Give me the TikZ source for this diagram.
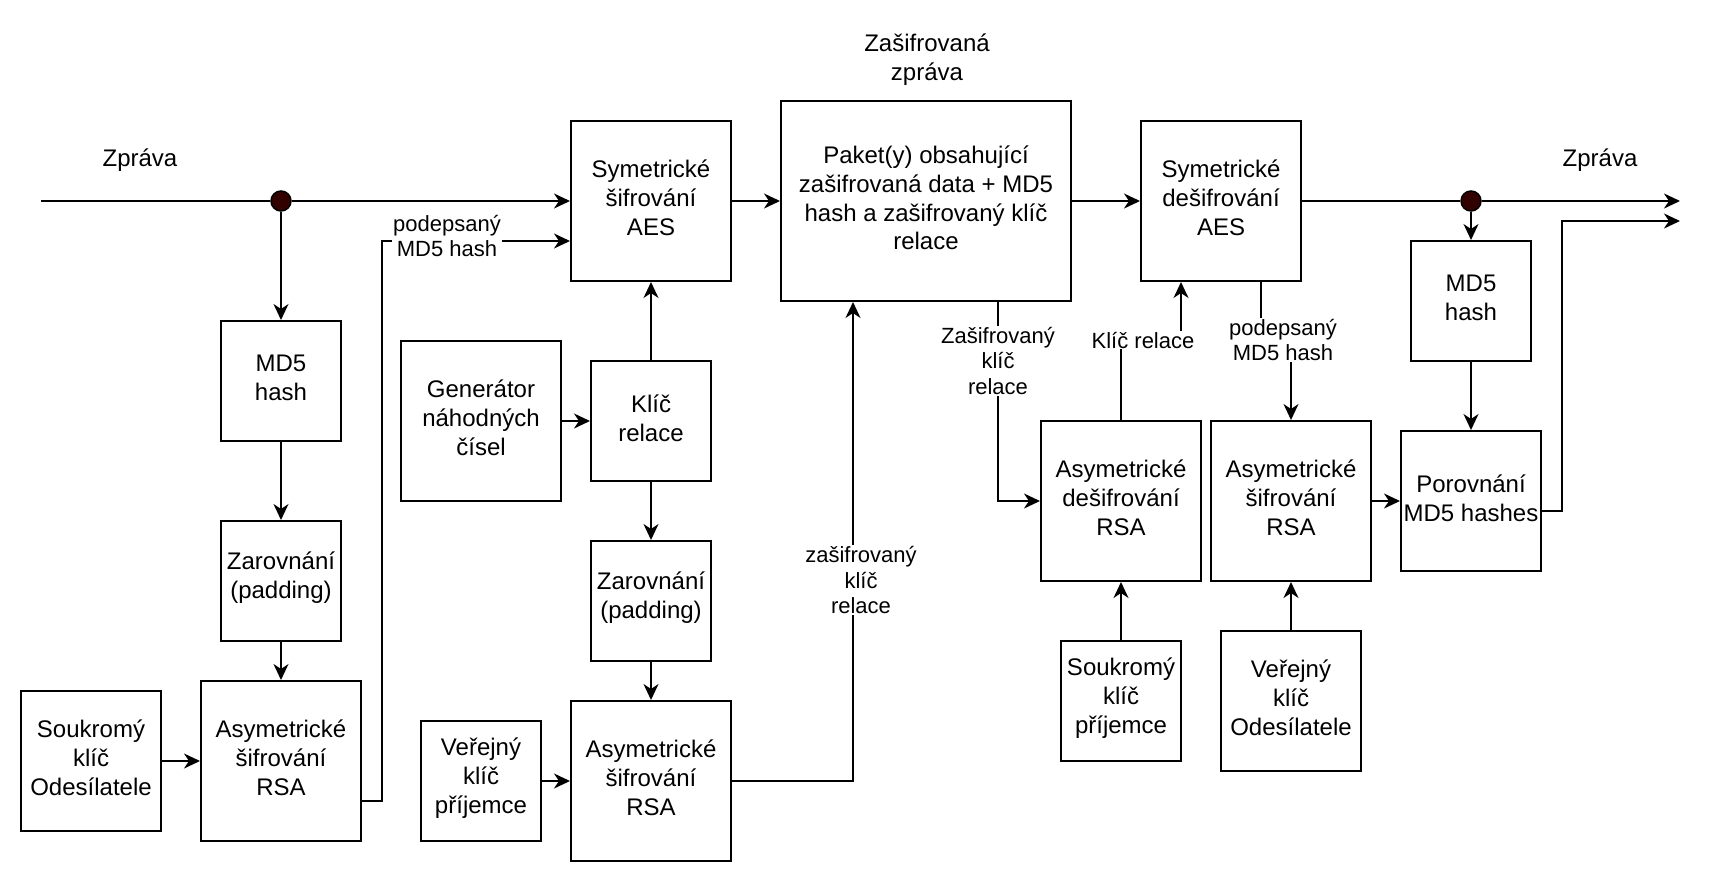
\documentclass[tikz,border=0pt]{standalone}
\usepackage{fontspec}
\setmainfont{Liberation Sans}
\usetikzlibrary{arrows.meta,calc}
\definecolor{dotfill}{HTML}{330000}
\newcommand{\bx}[4]{\node[box,#3] (#1) at (#2) {}; \node[txt] (#1-t) at ([yshift=3pt]#1.center) {#4};}
\begin{document}
\begin{tikzpicture}[x=1pt,y=-1pt,
  box/.style={draw, line width=2pt, inner sep=0pt},
  sA/.style={minimum width=120pt, minimum height=120pt},
  sB/.style={minimum width=140pt, minimum height=140pt},
  sC/.style={minimum width=160pt, minimum height=160pt},
  sP/.style={minimum width=290pt, minimum height=200pt},
  lbl/.style={fill=white, inner sep=1pt, align=center, font=\fontsize{22}{25.5}\selectfont},
  txt/.style={align=center, inner sep=0pt, font=\fontsize{24}{28.8}\selectfont},
  conn/.style={line width=2pt},
  arr/.style={conn, -{Stealth[length=16pt,width=15pt,inset=5pt]}},
  dot/.style={circle, draw, line width=1.5pt, fill=dotfill, minimum size=20pt, inner sep=0pt}]
\useasboundingbox (0,0) rectangle (1718,884);

% texts
\node[txt] (zpravaL) at (140,160) {Zpráva};
\node[txt] (zpravaR) at (1600,160) {Zpráva};
\node[txt] (zasifZ) at (927,60) {Zašifrovaná\\zpráva};

% left column
\node[dot] (dotL) at (281,201) {};
\bx{md5L}{281,381}{sA}{MD5\\hash}
\bx{padL}{281,581}{sA}{Zarovnání\\(padding)}
\bx{rsaL}{281,761}{sC}{Asymetrické\\šifrování\\RSA}
\bx{privS}{91,761}{sB}{Soukromý\\klíč\\Odesílatele}

% middle
\bx{symAES}{651,201}{sC}{Symetrické\\šifrování\\AES}
\bx{gen}{481,421}{sC}{Generátor\\náhodných\\čísel}
\bx{keyRel}{651,421}{sA}{Klíč\\relace}
\bx{padM}{651,601}{sA}{Zarovnání\\(padding)}
\bx{rsaM}{651,781}{sC}{Asymetrické\\šifrování\\RSA}
\bx{pubR}{481,781}{sA}{Veřejný\\klíč\\příjemce}
\bx{packet}{926,201}{sP}{Paket(y) obsahující\\zašifrovaná data + MD5\\hash a zašifrovaný klíč\\relace}

% right
\bx{symDec}{1221,201}{sC}{Symetrické\\dešifrování\\AES}
\node[dot] (dotR) at (1471,201) {};
\bx{md5R}{1471,301}{sA}{MD5\\hash}
\bx{cmp}{1471,501}{sB}{Porovnání\\MD5 hashes}
\bx{rsaDec}{1121,501}{sC}{Asymetrické\\dešifrování\\RSA}
\bx{rsaEnc}{1291,501}{sC}{Asymetrické\\šifrování\\RSA}
\bx{privR}{1121,701}{sA}{Soukromý\\klíč\\příjemce}
\bx{pubS}{1291,701}{sB}{Veřejný\\klíč\\Odesílatele}

\coordinate (start) at (41,201);
\coordinate (out1) at (1680,201);
\coordinate (out2) at (1680,221);
\coordinate (kr) at (1150,340);
\coordinate (mh) at (1275,340);

% connectors
\draw[conn] (start) -- (dotL);
\draw[arr] (dotL) -- (symAES.west);
\draw[arr] (dotL) -- (md5L);
\draw[arr] (md5L) -- (padL);
\draw[arr] (padL) -- (rsaL);
\draw[arr] (privS) -- (rsaL);
\draw[arr] ([yshift=-40pt]rsaL.east) -- ++(20pt,0pt) |- ([yshift=-40pt]symAES.west);
\draw[arr] (gen) -- (keyRel);
\draw[arr] (keyRel) -- (symAES);
\draw[arr] (keyRel) -- (padM);
\draw[arr] (padM) -- (rsaM);
\draw[arr] (pubR) -- (rsaM);
\draw[arr] (symAES) -- (packet);
\draw[arr] (rsaM.east) -| ([xshift=-73pt]packet.south);
\draw[arr] (packet) -- (symDec);
\draw[conn] (symDec) -- (dotR);
\draw[arr] (dotR) -- (out1);
\draw[arr] (dotR) -- (md5R);
\draw[arr] (md5R) -- (cmp);
\draw[arr] (rsaEnc) -- (cmp);
\draw[arr] ([yshift=-10pt]cmp.east) -- ++(20pt,0pt) |- (out2);
\draw[arr] ([xshift=72pt]packet.south) |- (rsaDec.west);
\draw[arr] (rsaDec.north) |- (kr) -| ([xshift=-40pt]symDec.south);
\draw[arr] ([xshift=40pt]symDec.south) |- (mh) -| (rsaEnc.north);
\draw[arr] (privR) -- (rsaDec);
\draw[arr] (pubS) -- (rsaEnc);

% connector labels
\node[lbl] (lSigL) at (447,236) {podepsaný\\MD5 hash};
\node[lbl] (lEncKeyM) at (861,580) {zašifrovaný\\klíč\\relace};
\node[lbl] (lEncKeyR) at (998,361) {Zašifrovaný\\klíč\\relace};
\node[lbl] (lKey) at (1143,340) {Klíč relace};
\node[lbl] (lSigR) at (1283,340) {podepsaný\\MD5 hash};
\end{tikzpicture}
\end{document}
